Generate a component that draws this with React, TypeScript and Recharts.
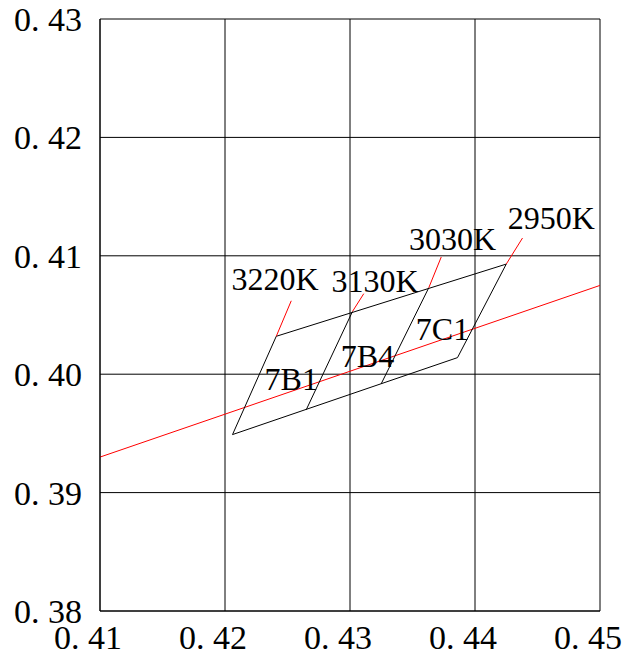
import React from "react";
import {
  ScatterChart,
  Scatter,
  XAxis,
  YAxis,
  CartesianGrid,
  ReferenceLine,
} from "recharts";

const xTicks = [0.41, 0.42, 0.43, 0.44, 0.45];
const yTicks = [0.38, 0.39, 0.4, 0.41, 0.42, 0.43];

// black body locus (red)
const locus = [
  { x: 0.41, y: 0.393 },
  { x: 0.45, y: 0.4075 },
];

// outer bin quadrilateral, closed
const binOutline = [
  { x: 0.4206, y: 0.3949 },
  { x: 0.4241, y: 0.4032 },
  { x: 0.4425, y: 0.4093 },
  { x: 0.4386, y: 0.4014 },
  { x: 0.4206, y: 0.3949 },
];

// inner bin dividers
const binDividers = [
  [
    { x: 0.4302, y: 0.4053 },
    { x: 0.4265, y: 0.397 },
  ],
  [
    { x: 0.4363, y: 0.4073 },
    { x: 0.4325, y: 0.3992 },
  ],
];

// isotemperature stubs above the bins
const cctLines = [
  [
    { x: 0.4241, y: 0.4032 },
    { x: 0.4253, y: 0.4062 },
  ],
  [
    { x: 0.4302, y: 0.4053 },
    { x: 0.4311, y: 0.4068 },
  ],
  [
    { x: 0.4363, y: 0.4073 },
    { x: 0.4373, y: 0.4099 },
  ],
  [
    { x: 0.4425, y: 0.4093 },
    { x: 0.4438, y: 0.4115 },
  ],
];

const cctLabels = [
  { name: "3220K", x: 0.424, y: 0.408 },
  { name: "3130K", x: 0.432, y: 0.4079 },
  { name: "3030K", x: 0.4382, y: 0.4114 },
  { name: "2950K", x: 0.4461, y: 0.4132 },
];

const binLabels = [
  { name: "7B1", x: 0.4253, y: 0.3996 },
  { name: "7B4", x: 0.4314, y: 0.4015 },
  { name: "7C1", x: 0.4374, y: 0.4038 },
];

const FONT = "'Liberation Serif', 'DejaVu Serif', serif";

const fmt = (v: number) => v.toFixed(2).replace(".", ". ");

const toSegments = (pts: { x: number; y: number }[]) =>
  pts.slice(1).map((p, i) => [pts[i], p]);

const LabelShape = (props: any) => {
  const { cx, cy, payload } = props;
  return (
    <text
      x={cx}
      y={cy}
      textAnchor="middle"
      dominantBaseline="central"
      fontFamily={FONT}
      fontSize={32}
      fill="#000"
    >
      {payload.name}
    </text>
  );
};

export default function App() {
  const tickStyle = { fill: "#000", fontSize: 34, fontFamily: FONT };
  const blackSegs = [...toSegments(binOutline), ...binDividers];

  return (
    <div style={{ position: "absolute", left: 0, top: 0, background: "#fff" }}>
      <ScatterChart
        width={626}
        height={662}
        margin={{ top: 19, right: 26, bottom: 0, left: 0 }}
      >
        <CartesianGrid stroke="#000" strokeWidth={1} />
        <XAxis
          type="number"
          dataKey="x"
          domain={[0.41, 0.45]}
          ticks={xTicks}
          allowDataOverflow
          tickFormatter={fmt}
          tick={{ ...tickStyle, dx: -12 }}
          tickLine={false}
          tickSize={0}
          tickMargin={14}
          height={51}
          axisLine={{ stroke: "#000" }}
          interval={0}
        />
        <YAxis
          type="number"
          dataKey="y"
          domain={[0.38, 0.43]}
          ticks={yTicks}
          allowDataOverflow
          tickFormatter={fmt}
          tick={tickStyle}
          tickLine={false}
          tickSize={0}
          tickMargin={18}
          width={100}
          axisLine={{ stroke: "#000" }}
          interval={0}
        />
        <ReferenceLine
          segment={locus}
          stroke="#ff0000"
          strokeWidth={1}
          ifOverflow="visible"
        />
        {blackSegs.map((seg, i) => (
          <ReferenceLine
            key={`b-${i}`}
            segment={seg}
            stroke="#000"
            strokeWidth={1}
            ifOverflow="visible"
          />
        ))}
        {cctLines.map((seg, i) => (
          <ReferenceLine
            key={`c-${i}`}
            segment={seg}
            stroke="#ff0000"
            strokeWidth={1}
            ifOverflow="visible"
          />
        ))}
        <Scatter
          data={[...cctLabels, ...binLabels]}
          shape={LabelShape}
          isAnimationActive={false}
        />
      </ScatterChart>
    </div>
  );
}
